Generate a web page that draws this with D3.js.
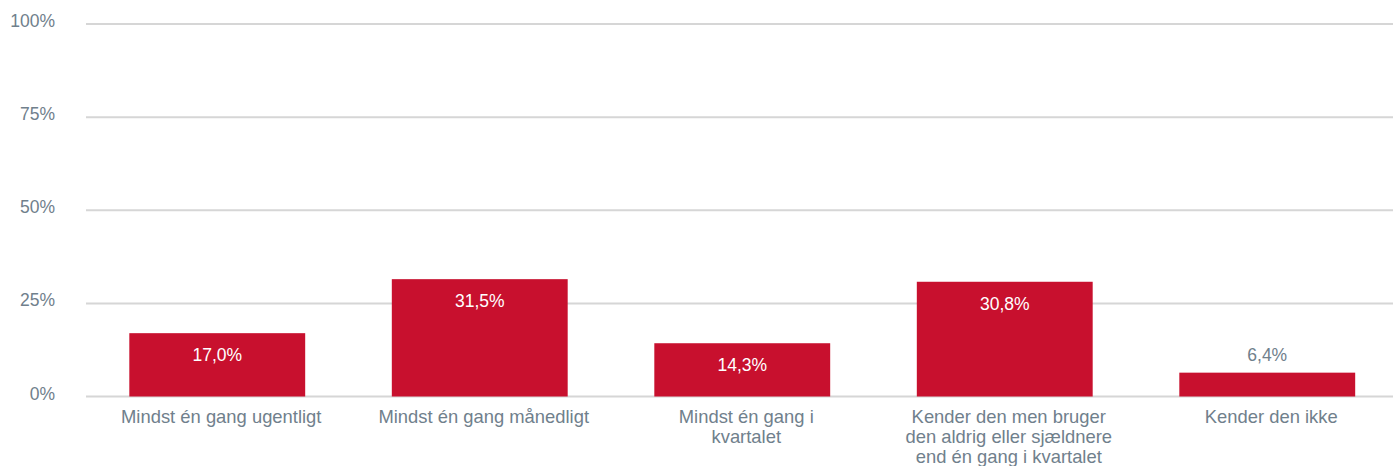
<!DOCTYPE html>
<html><head><meta charset="utf-8">
<script src="https://cdn.jsdelivr.net/npm/d3@7"></script>
<style>body{margin:0;background:#fff;} svg{display:block;font-family:"Liberation Sans",Arial,sans-serif;}</style>
</head><body><svg id="c" width="1393" height="466"></svg>
<script>
const categories = ["Mindst én gang ugentligt","Mindst én gang månedligt","Mindst én gang i\nkvartalet","Kender den men bruger\nden aldrig eller sjældnere\nend én gang i kvartalet","Kender den ikke"];
const values = [17.0, 31.5, 14.3, 30.8, 6.4];
const yTicks = [0, 25, 50, 75, 100];

const svg = d3.select("#c");
const x = d3.scaleBand().domain(categories).range([86, 1398.5]).paddingInner(0.33).paddingOuter(0.165);
const y = d3.scaleLinear().domain([0, 100]).range([396.5, 24]);
const textCol = "#70808c";

// grid
svg.append("g").selectAll("line").data(yTicks).join("line")
  .attr("x1", 86).attr("x2", 1393)
  .attr("y1", d => y(d)).attr("y2", d => y(d))
  .attr("stroke", "#d6d6d6").attr("stroke-width", 2);

// y labels
svg.append("g").selectAll("text").data(yTicks).join("text")
  .attr("x", 55).attr("y", d => y(d) + 3)
  .attr("text-anchor", "end").attr("fill", textCol).attr("font-size", 17.5)
  .text(d => d + "%");

// bars
svg.append("g").selectAll("rect").data(values).join("rect")
  .attr("x", (d, i) => x(categories[i])).attr("width", x.bandwidth())
  .attr("y", d => y(d)).attr("height", d => y(0) - y(d))
  .attr("fill", "#c8102e");

// value labels
const fmt = v => v.toFixed(1).replace(".", ",") + "%";
const inside = d => (y(0) - y(d) > 35);
svg.append("g").selectAll("text").data(values).join("text")
  .attr("x", (d, i) => x(categories[i]) + x.bandwidth() / 2)
  .attr("y", d => inside(d) ? y(d) + 28 : y(d) - 12)
  .attr("text-anchor", "middle").attr("font-size", 17.5)
  .attr("fill", d => inside(d) ? "#ffffff" : textCol)
  .text(fmt);

// category labels
const lx = d => x(d) + x.bandwidth() / 2 + 4;
const cg = svg.append("g").selectAll("text").data(categories).join("text")
  .attr("x", lx).attr("y", 423)
  .attr("text-anchor", "middle").attr("font-size", 18.4).attr("fill", textCol);
cg.each(function(d) {
  const t = d3.select(this);
  d.split("\n").forEach((line, i) => {
    t.append("tspan").attr("x", lx(d)).attr("dy", i === 0 ? 0 : 20).text(line);
  });
});
</script></body></html>
